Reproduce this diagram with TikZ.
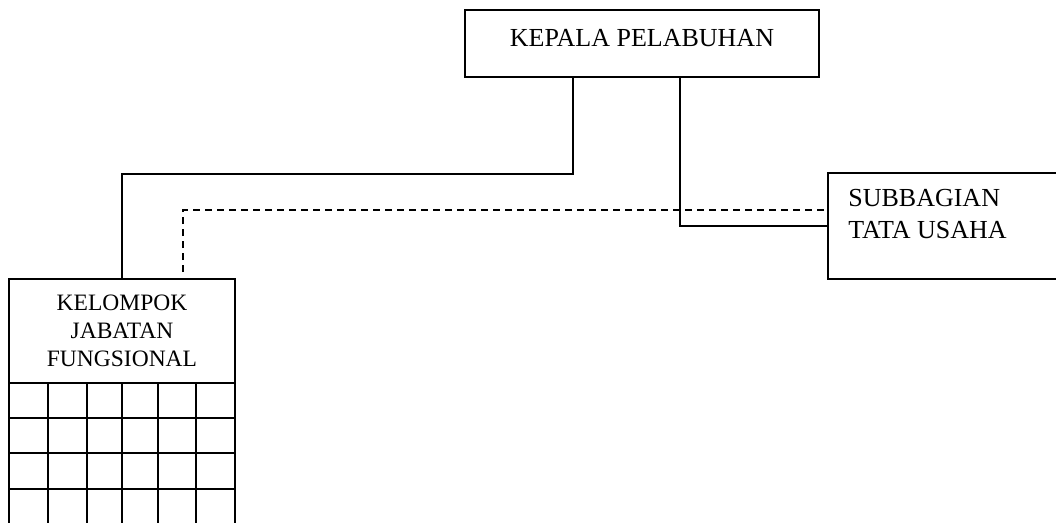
\documentclass[tikz,border=0pt]{standalone}
\usepackage{fontspec}
\setmainfont{Liberation Serif}
\usetikzlibrary{positioning}
\tikzset{
	unit/.style={
		rectangle,
		draw=black, line width=1.7pt,
		inner sep=0pt},
	unittext/.style={
		inner sep=0pt,
		text=black},
	line/.style={draw, line width=1.7pt},
	dline/.style={draw, line width=1.7pt, dash pattern=on 7pt off 5pt},
	gridline/.style={draw, line width=1.7pt},
}
\begin{document}
\begin{tikzpicture}[x=1pt, y=-1pt]
	% Fix the page to the size of the reference and cut what runs over
	\clip (0,0) rectangle (1056,522);

	% The three units of the chart
	\node[unit, minimum width=354pt, minimum height=67pt] (kepala) at (642,43.5) {};
	\node[unit, minimum width=234pt, minimum height=106pt] (subbag) at (945,226) {};
	\node[unit, minimum width=226pt, minimum height=104pt] (kelompok) at (122,331) {};

	% Their names
	\node[unittext, anchor=base, font=\fontsize{26}{32}\selectfont]
		(kepalatext) at ([yshift=-37pt]kepala.north) {KEPALA PELABUHAN};
	\node[unittext, anchor=north west, align=left, font=\fontsize{26}{32}\selectfont]
		(subbagtext) at ([xshift=21pt, yshift=-16.5pt]subbag.north west) {SUBBAGIAN\\TATA USAHA};
	\node[unittext, anchor=north, align=center, font=\fontsize{23.5}{28}\selectfont]
		(kelompoktext) at ([yshift=-16.5pt]kelompok.north) {KELOMPOK\\JABATAN\\FUNGSIONAL};

	% Lines of command from the head down to the units
	\draw[line] ([xshift=109pt]kepala.south west) -- ++(0,96) -| (kelompok.north);
	\draw[line] ([xshift=216pt]kepala.south west) |- (subbag.west);

	% Line of coordination
	\draw[dline] ([xshift=175pt, yshift=6pt]kelompok.north west) |- ([yshift=16pt]subbag.west);

	% The open grid below the functional group
	\foreach \x in {9, 48, 87, 122, 158, 196, 235}
		\draw[gridline] (\x,383) -- (\x,530);
	\foreach \y in {418, 453, 489}
		\draw[gridline] (9,\y) -- (235,\y);
\end{tikzpicture}
\end{document}
